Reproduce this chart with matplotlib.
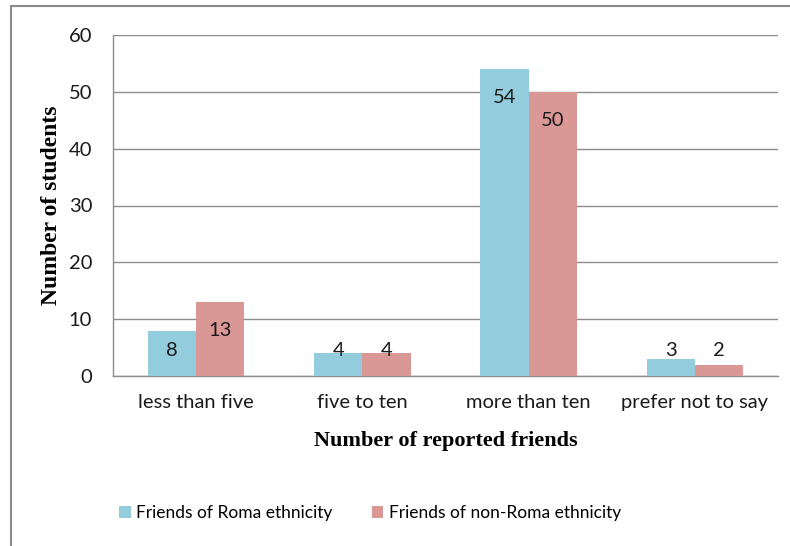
import matplotlib.pyplot as plt
import numpy as np
from matplotlib.patches import Rectangle

# Anzahl gemeldeter Freunde je Kategorie
categories = ['less than five', 'five to ten', 'more than ten', 'prefer not to say']
roma = [8, 4, 54, 3]
non_roma = [13, 4, 50, 2]
series_names = ['Friends of Roma ethnicity', 'Friends of non-Roma ethnicity']
yticks = [0, 10, 20, 30, 40, 50, 60]

col_roma = '#93CDDD'
col_non = '#D99795'
grid_col = '#8C8C8C'
sans = 'Lato'
serif = 'Liberation Serif'

fig = plt.figure(figsize=(7.9, 5.46), dpi=100)
# Rahmen um das Diagramm
fig.patches.append(Rectangle((11 / 790, -0.1), 1.2, 1 - 6 / 546 + 0.1,
                             transform=fig.transFigure, fill=False,
                             edgecolor='#8A8A8A', linewidth=1.5))

ax = fig.add_axes([113 / 790, 1 - 376 / 546, (778 - 113) / 790, (376 - 35) / 546])

x = np.arange(len(categories))
w = 0.29
b1 = ax.bar(x - w / 2, roma, w, color=col_roma, label=series_names[0], zorder=3)
b2 = ax.bar(x + w / 2, non_roma, w, color=col_non, label=series_names[1], zorder=3)

# Werte an den Balken
for bars, vals in ((b1, roma), (b2, non_roma)):
    for r, v in zip(bars, vals):
        ypos = max(v - 5, 4.4)
        ax.text(r.get_x() + r.get_width() / 2, ypos, str(v), ha='center', va='center',
                fontsize=14.5, family=sans, color='#1A1A1A', zorder=4)

ax.set_xlim(-0.5, len(categories) - 0.5)
ax.set_ylim(0, 60)
ax.set_yticks(yticks)
ax.set_xticks(x)
ax.set_xticklabels(categories, fontsize=14.5, family=sans)
ax.set_yticklabels([str(t) for t in yticks], fontsize=14.5, family=sans)
ax.tick_params(length=0, colors='#1A1A1A')
ax.tick_params(axis='y', pad=15)
ax.tick_params(axis='x', pad=13)
ax.yaxis.grid(True, color=grid_col, linewidth=1, zorder=0)
for s in ('top', 'right'):
    ax.spines[s].set_visible(False)
for s in ('left', 'bottom'):
    ax.spines[s].set_color(grid_col)
    ax.spines[s].set_linewidth(1)

ax.set_xlabel('Number of reported friends', family=serif, fontweight='bold', fontsize=16)
ax.set_ylabel('Number of students', family=serif, fontweight='bold', fontsize=17)
ax.xaxis.set_label_coords(0.5, -0.19)
ax.xaxis.label.set_va('center')
ax.yaxis.set_label_coords(-0.093, 0.5)
ax.yaxis.label.set_va('center')

leg = fig.legend(handles=[b1, b2], loc='center', bbox_to_anchor=(370 / 790, 1 - 513 / 546),
                 ncol=2, frameon=False, prop={'family': sans, 'size': 12.5},
                 handlelength=0.65, handleheight=0.65, handletextpad=0.3, columnspacing=2.3)

fig.savefig('out.png', dpi=100)
